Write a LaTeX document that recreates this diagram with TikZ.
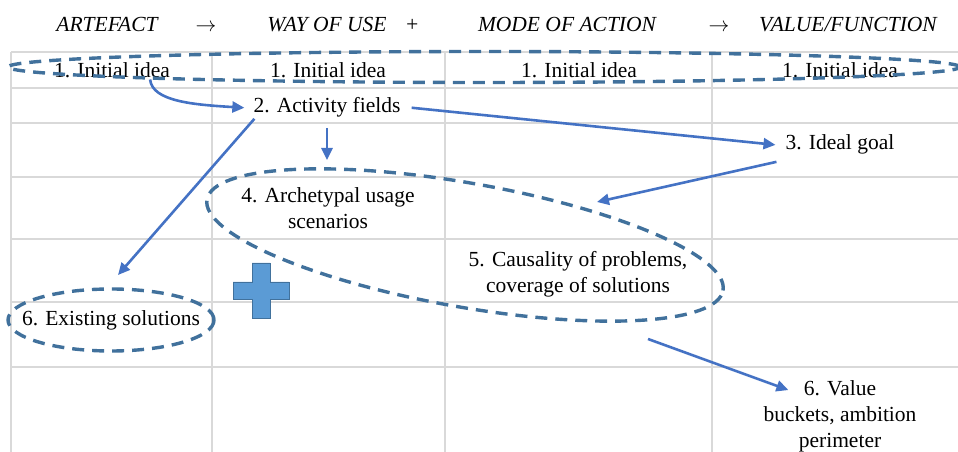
\documentclass[tikz,border=0pt]{standalone}
\usepackage{fontspec}
\setmainfont{Liberation Serif}
\usetikzlibrary{arrows.meta}

\definecolor{gridgray}{HTML}{D9D9D9}
\definecolor{arrowblue}{HTML}{4472C4}
\definecolor{ringblue}{HTML}{41719C}
\definecolor{crossblue}{HTML}{5B9BD5}

\begin{document}
\begin{tikzpicture}[x=1pt, y=1pt,
    txt/.style={inner sep=1pt, align=center, font=\fontsize{21.5}{26}\selectfont},
    head/.style={inner sep=1pt, anchor=base, font=\fontsize{21.5}{26}\selectfont\itshape},
    gridline/.style={draw=gridgray, line width=1.5pt},
    flow/.style={draw=arrowblue, line width=2.6pt, -{Triangle[length=12pt,width=11pt]}},
    dashring/.style={draw=ringblue, line width=3.4pt, dash pattern=on 12pt off 8pt}]

    \useasboundingbox (0,0) rectangle (958,452);

    \foreach \y in {400,364,329,275,213,150,85}
        \draw[gridline] (11,\y) -- (958,\y);
    \foreach \x in {11,212,445,712}
        \draw[gridline] (\x,400) -- (\x,0);

    \node[head] (artefact) at (107,420) {ARTEFACT};
    \node[head] (arrA) at (206,420) {$\rightarrow$};
    \node[head] (wayuse) at (327,420) {WAY OF USE};
    \node[head] (plus) at (412,420) {+};
    \node[head] (mode) at (567,420) {MODE OF ACTION};
    \node[head] (arrB) at (719,420) {$\rightarrow$};
    \node[head] (func) at (848,420) {VALUE/FUNCTION};

    \foreach \x/\n in {112/1,328/2,579/3,840/4}
        \node[txt, anchor=base] (ini\n) at (\x,374) {1. Initial idea};

    \node[txt, anchor=base] (act) at (327,339) {2. Activity fields};
    \node[txt, anchor=base] (goal) at (840,302) {3. Ideal goal};
    \node[txt] (arch) at (328,243.5) {4. Archetypal usage\\scenarios};
    \node[txt] (caus) at (578,178) {5. Causality of problems,\\coverage of solutions};
    \node[txt] (ext) at (111,132) {6. Existing solutions};
    \node[txt] (val) at (840,36) {6. Value\\buckets, ambition\\perimeter};

    \draw[dashring] (484,385) ellipse [x radius=476, y radius=15.5];
    \draw[dashring, rotate around={-10:(465,207)}] (465,207) ellipse [x radius=262, y radius=62];
    \draw[dashring] (ext.center) ellipse [x radius=103, y radius=31];

    \filldraw[fill=crossblue, draw=ringblue, line width=0.6pt]
        (252,189) -- (270,189) -- (270,170) -- (289,170) -- (289,153) -- (270,153)
        -- (270,134) -- (252,134) -- (252,153) -- (233,153) -- (233,170) -- (252,170) -- cycle;

    \coordinate (p4) at (327,292);
    \coordinate (p5) at (597,250);
    \coordinate (p6) at (648,113);

    \draw[flow] ([xshift=-21pt]ini1.south east) .. controls +(2,-22) and +(-50,3) .. ([xshift=-8pt]act.west);
    \draw[flow] ([xshift=10pt]act.east) -- ([xshift=-9pt]goal.west);
    \draw[flow] ([xshift=-8pt,yshift=-6pt]goal.south west) -- (p5);
    \draw[flow] ([yshift=-9pt]act.south) -- (p4);
    \draw[flow] ([xshift=2pt]act.south west) -- ([xshift=7pt,yshift=34pt]ext.north);
    \draw[flow] (p6) -- ([xshift=26pt,yshift=-11pt]val.north west);

\end{tikzpicture}
\end{document}
